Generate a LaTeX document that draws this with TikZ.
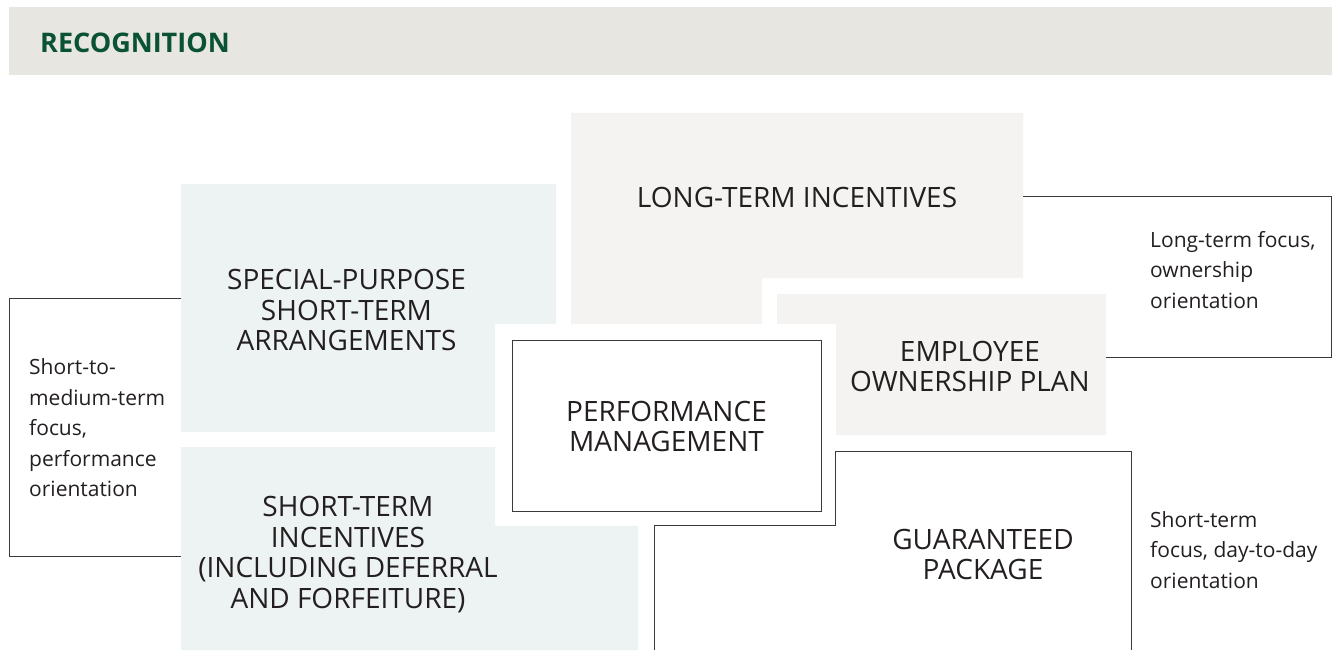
\documentclass[tikz,border=0pt]{standalone}
\usepackage{fontspec}
\setmainfont{Open Sans}
\definecolor{hdr}{HTML}{E7E6E0}
\definecolor{bluebox}{HTML}{EDF2F2}
\definecolor{graybox}{HTML}{F4F3F1}
\definecolor{linec}{HTML}{3A3A3A}
\definecolor{txt}{HTML}{231F20}
\definecolor{grn}{HTML}{0A5235}
\tikzset{
  boxtext/.style={inner sep=0pt, align=center, text=txt, font=\fontsize{28}{30.4}\selectfont},
  sidetext/.style={inner sep=0pt, align=left, text=txt, anchor=west, font=\fontsize{21}{30.5}\selectfont},
  outline/.style={draw=linec, line width=1pt},
}
\begin{document}
\begin{tikzpicture}[x=1pt,y=-1pt]
\useasboundingbox (0,0) rectangle (1332,650);
% header
\fill[hdr] (9,7) rectangle (1332,75);
\node[anchor=west, inner sep=0pt, text=grn, font=\bfseries\fontsize{27}{30}\selectfont] (title) at (40,43) {RECOGNITION};
% shaded blocks
\fill[bluebox] (181,184) -- (556,184) -- (556,324) -- (495,324) -- (495,432) -- (181,432) -- cycle;
\fill[graybox] (571,113) -- (1023,113) -- (1023,278) -- (762,278) -- (762,324) -- (571,324) -- cycle;
\fill[graybox] (777,294) -- (1106,294) -- (1106,435) -- (836,435) -- (836,324) -- (777,324) -- cycle;
\fill[bluebox] (181,447) -- (495,447) -- (495,526) -- (638,526) -- (638,650) -- (181,650) -- cycle;
% performance management box
\draw[outline, fill=white] (512,340) rectangle (821,511);
% guaranteed package outline
\draw[outline] (654,650) -- (654,525) -- (835,525) -- (835,451) -- (1131,451) -- (1131,650);
% brackets
\coordinate (lbA) at (181,298);
\coordinate (lbB) at (181,556);
\draw[outline] (lbA) -- (9,298) -- (9,556) -- (lbB);
\coordinate (rbA) at (1023,196);
\coordinate (rbB) at (1106,357);
\draw[outline] (rbA) -- (1331,196) -- (1331,357) -- (rbB);
% texts
\node[boxtext] (sp) at (346.5,310) {SPECIAL-PURPOSE\\SHORT-TERM\\ARRANGEMENTS};
\node[boxtext] (lti) at (797,197) {LONG-TERM INCENTIVES};
\node[boxtext] (eop) at (970,366.5) {EMPLOYEE\\OWNERSHIP PLAN};
\node[boxtext] (pm) at (666.5,426.5) {PERFORMANCE\\MANAGEMENT};
\node[boxtext] (sti) at (348,554.5) {SHORT-TERM\\INCENTIVES\\(INCLUDING DEFERRAL\\AND FORFEITURE)};
\node[boxtext] (gp) at (983,554.5) {GUARANTEED\\PACKAGE};
\node[sidetext] (lt) at (29,428) {Short-to-\\medium-term\\focus,\\performance\\orientation};
\node[sidetext] (rt1) at (1150,270) {Long-term focus,\\ownership\\orientation};
\node[sidetext] (rt2) at (1150,550) {Short-term\\focus, day-to-day\\orientation};
\end{tikzpicture}
\end{document}
